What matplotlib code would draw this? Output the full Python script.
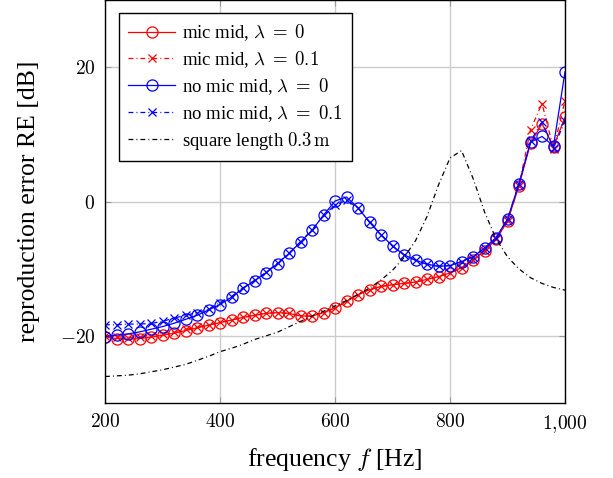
import numpy as np
import matplotlib
matplotlib.use("Agg")
import matplotlib.pyplot as plt
from matplotlib.ticker import FixedLocator, FuncFormatter

# ==== data ====
freq = list(range(200, 1001, 20))

mic_mid_l0 = [-20.15, -20.35, -20.45, -20.35, -20.15, -19.85, -19.56, -19.17, -18.77, -18.37,
              -17.98, -17.6, -17.2, -16.9, -16.6, -16.5, -16.6, -17.0, -17.0, -16.5,
              -15.8, -14.8, -13.8, -13.1, -12.6, -12.35, -12.15, -11.95, -11.55, -11.15,
              -10.6, -9.8, -8.7, -7.3, -5.6, -2.9, 2.4, 8.7, 11.6, 8.2, 12.55]

mic_mid_l01 = [-19.9, -20.1, -20.2, -20.1, -19.9, -19.6, -19.35, -19.0, -18.65, -18.3,
               -17.95, -17.6, -17.2, -16.9, -16.6, -16.5, -16.6, -17.0, -17.0, -16.5,
               -15.8, -14.8, -13.8, -13.1, -12.6, -12.35, -12.15, -11.95, -11.55, -11.15,
               -10.6, -9.8, -8.7, -7.3, -5.6, -2.9, 2.4, 10.7, 14.6, 7.9, 15.0]

no_mic_l0 = [-20.05, -19.85, -19.66, -19.36, -18.97, -18.57, -18.08, -17.5, -16.9, -16.1,
             -15.3, -14.2, -12.9, -11.75, -10.6, -9.2, -7.7, -6.0, -4.25, -2.0,
             0.1, 0.7, -0.9, -3.05, -4.9, -6.6, -7.9, -8.7, -9.3, -9.6,
             -9.5, -8.9, -8.2, -6.9, -5.35, -2.6, 2.7, 8.85, 9.7, 8.3, 19.3]

no_mic_l01 = [-18.3, -18.3, -18.2, -18.2, -18.1, -17.8, -17.3, -16.9, -16.5, -16.0,
              -15.0, -14.1, -12.8, -11.7, -10.5, -9.15, -7.65, -5.95, -4.2, -2.05,
              -0.5, 0.2, -0.9, -3.05, -4.9, -6.6, -7.9, -8.7, -9.3, -9.6,
              -9.5, -8.9, -8.2, -6.9, -5.35, -2.6, 2.7, 9.0, 11.9, 8.0, 12.0]

square_03 = [-26.0, -25.9, -25.8, -25.6, -25.3, -25.0, -24.6, -24.2, -23.6, -23.0,
             -22.3, -21.8, -21.2, -20.5, -19.95, -19.4, -18.6, -17.8, -17.0, -16.3,
             -15.5, -14.7, -13.8, -12.85, -11.65, -10.2, -8.3, -5.8, -2.2, 2.5,
             6.5, 7.6, 3.5, -1.5, -5.5, -8.2, -10.0, -11.3, -12.15, -12.75, -13.15]

labels = [r"mic mid, $\lambda\;=\;0$", r"mic mid, $\lambda\;=\;0.1$",
          r"no mic mid, $\lambda\;=\;0$", r"no mic mid, $\lambda\;=\;0.1$",
          r"square length $0.3\,\mathrm{m}$"]

xticks = [200, 400, 600, 800, 1000]
xtick_labels = [r"$200$", r"$400$", r"$600$", r"$800$", r"$1{,}000$"]
yticks = [-20, 0, 20]

# ==== style ====
plt.rcParams['font.family'] = ['Liberation Serif', 'DejaVu Serif']
plt.rcParams['mathtext.fontset'] = 'cm'
plt.rcParams['lines.scale_dashes'] = False

dashdot = (0, (3.5, 2.2, 0.7, 2.2))

fig = plt.figure(figsize=(6.13, 4.78), dpi=100)
ax = fig.add_axes([0.1713, 0.156, 0.7504, 0.844])

ax.plot(freq, mic_mid_l0, color='red', lw=0.9, marker='o', ms=8, mfc='none', mew=0.9,
        label=labels[0])
ax.plot(freq, mic_mid_l01, color='red', lw=0.9, ls=dashdot, marker='x', ms=6, mew=0.9,
        label=labels[1])
ax.plot(freq, no_mic_l0, color='blue', lw=0.9, marker='o', ms=8, mfc='none', mew=0.9,
        label=labels[2])
ax.plot(freq, no_mic_l01, color='blue', lw=0.9, ls=dashdot, marker='x', ms=6, mew=0.9,
        label=labels[3])
ax.plot(freq, square_03, color='black', lw=0.9, ls=dashdot, label=labels[4])

ax.set_xlim(200, 1000)
ax.set_ylim(-30, 30)
ax.xaxis.set_major_locator(FixedLocator(xticks))
ax.set_xticklabels(xtick_labels)
ax.yaxis.set_major_locator(FixedLocator(yticks))
ax.yaxis.set_major_formatter(FuncFormatter(lambda v, p: r"$%d$" % v))
ax.tick_params(labelsize=14, direction='in', length=4, color='#999999',
               top=True, right=True, pad=7)
ax.grid(True, color='#cccccc', lw=1.0)
for s in ax.spines.values():
    s.set_linewidth(1.0)
    s.set_color('black')

ax.set_xlabel(r"frequency $f$ [Hz]", fontsize=18.5, labelpad=8)
ax.set_ylabel("reproduction error RE [dB]", fontsize=18.5, labelpad=14)

leg = ax.legend(loc='upper left', bbox_to_anchor=(0.03, 0.968), borderaxespad=0,
                fontsize=13.5, frameon=True, fancybox=False, edgecolor='black',
                framealpha=1, handlelength=2.5, handletextpad=0.35,
                labelspacing=0.32, borderpad=0.5)
leg.get_frame().set_linewidth(1.0)

fig.savefig("out.png", dpi=100)
